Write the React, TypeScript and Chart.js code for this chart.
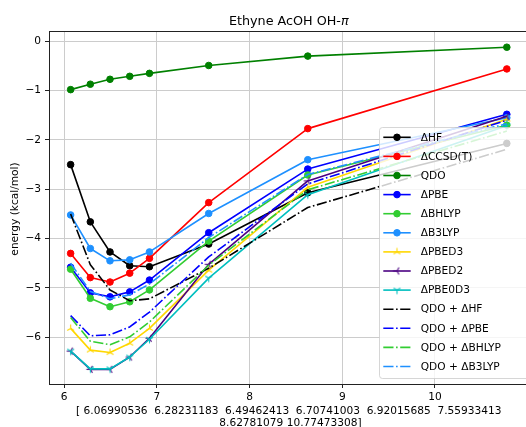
import React, { useEffect, useRef } from "react";
import { Chart, registerables } from "chart.js";
Chart.register(...registerables);

// ---- data ----
const xValues = [6.06990536, 6.28231183, 6.49462413, 6.70741003, 6.92015685, 7.55933413, 8.62781079, 10.77473308];
const xTickValues = [6, 7, 8, 9, 10];
const yTickValues = [0, -1, -2, -3, -4, -5, -6];

const dHF = [-2.5, -3.66, -4.27, -4.55, -4.57, -4.11, -3.07, -2.07];
const dCCSDT = [-4.3, -4.79, -4.88, -4.7, -4.4, -3.27, -1.77, -0.56];
const qdo = [-0.98, -0.87, -0.77, -0.71, -0.65, -0.49, -0.3, -0.12];
const dPBE = [-4.58, -5.1, -5.18, -5.08, -4.84, -3.88, -2.59, -1.48];
const dBHLYP = [-4.62, -5.21, -5.38, -5.28, -5.04, -4.05, -2.71, -1.7];
const dB3LYP = [-3.52, -4.2, -4.45, -4.43, -4.27, -3.49, -2.4, -1.55];
const dPBED3 = [-5.82, -6.26, -6.31, -6.12, -5.82, -4.64, -2.96, -1.58];
const dPBED2 = [-6.28, -6.65, -6.65, -6.4, -6.02, -4.52, -2.83, -1.52];
const dPBE0D3 = [-6.28, -6.64, -6.64, -6.4, -6.04, -4.8, -3.11, -1.71];
const qdoHF = [-3.5, -4.53, -5.04, -5.26, -5.22, -4.6, -3.37, -2.19];
const qdoPBE = [-5.56, -5.97, -5.95, -5.79, -5.49, -4.37, -2.89, -1.6];
const qdoBHLYP = [-5.6, -6.08, -6.15, -5.99, -5.69, -4.54, -3.01, -1.82];
const qdoB3LYP = [-4.5, -5.07, -5.22, -5.14, -4.92, -3.98, -2.7, -1.67];

const titleMain = "Ethyne AcOH OH-";
const titlePi = "\u03c0";
const yLabel = "energy (kcal/mol)";
const xLabelLines = [
  "[ 6.06990536  6.28231183  6.49462413  6.70741003  6.92015685  7.55933413",
  " 8.62781079 10.77473308]",
];

type Marker = "circle" | "triUp" | "triLeft" | "triDown" | "none";
const seriesDefs: { label: string; values: number[]; color: string; marker: Marker; dash: boolean }[] = [
  { label: "\u0394HF", values: dHF, color: "#000000", marker: "circle", dash: false },
  { label: "\u0394CCSD(T)", values: dCCSDT, color: "#ff0000", marker: "circle", dash: false },
  { label: "QDO", values: qdo, color: "#008000", marker: "circle", dash: false },
  { label: "\u0394PBE", values: dPBE, color: "#0000ff", marker: "circle", dash: false },
  { label: "\u0394BHLYP", values: dBHLYP, color: "#32cd32", marker: "circle", dash: false },
  { label: "\u0394B3LYP", values: dB3LYP, color: "#1e90ff", marker: "circle", dash: false },
  { label: "\u0394PBED3", values: dPBED3, color: "#ffd700", marker: "triUp", dash: false },
  { label: "\u0394PBED2", values: dPBED2, color: "#4b0082", marker: "triLeft", dash: false },
  { label: "\u0394PBE0D3", values: dPBE0D3, color: "#00bfbf", marker: "triDown", dash: false },
  { label: "QDO + \u0394HF", values: qdoHF, color: "#000000", marker: "none", dash: true },
  { label: "QDO + \u0394PBE", values: qdoPBE, color: "#0000ff", marker: "none", dash: true },
  { label: "QDO + \u0394BHLYP", values: qdoBHLYP, color: "#32cd32", marker: "none", dash: true },
  { label: "QDO + \u0394B3LYP", values: qdoB3LYP, color: "#1e90ff", marker: "none", dash: true },
];

const FONT = "'DejaVu Sans', sans-serif";
const DASHDOT = [10.2, 2.55, 1.6, 2.55];

function triMarker(color: string, kind: Marker): HTMLCanvasElement {
  const c = document.createElement("canvas");
  c.width = 11;
  c.height = 11;
  const g = c.getContext("2d")!;
  g.strokeStyle = color;
  g.lineWidth = 1.1;
  const cx = 5.5, cy = 5.5, r = 4;
  let angles: number[] = [];
  if (kind === "triUp") angles = [-90, 30, 150];
  else if (kind === "triDown") angles = [90, -30, -150];
  else angles = [180, -60, 60];
  for (const a of angles) {
    const rad = (a * Math.PI) / 180;
    g.beginPath();
    g.moveTo(cx, cy);
    g.lineTo(cx + r * Math.cos(rad), cy + r * Math.sin(rad));
    g.stroke();
  }
  return c;
}

export default function App() {
  const ref = useRef<HTMLCanvasElement | null>(null);

  useEffect(() => {
    if (!ref.current) return;
    const markerImgs = seriesDefs.map((s) =>
      s.marker === "triUp" || s.marker === "triLeft" || s.marker === "triDown" ? triMarker(s.color, s.marker) : null
    );
    const n = seriesDefs.length;
    const datasets = seriesDefs.map((s, i) => ({
      label: s.label,
      data: xValues.map((x, j) => ({ x, y: s.values[j] })),
      borderColor: s.color,
      backgroundColor: s.color,
      borderWidth: 1.6,
      borderDash: s.dash ? DASHDOT : [],
      borderJoinStyle: "round" as const,
      pointRadius: s.marker === "none" ? 0 : s.marker === "circle" ? 3.3 : 5.5,
      pointBorderWidth: 1,
      pointStyle: markerImgs[i] ? (markerImgs[i] as any) : "circle",
      pointBorderColor: s.color,
      pointBackgroundColor: s.color,
      tension: 0,
      order: n - 1 - i,
    }));

    const decor = {
      id: "decor",
      afterDraw(chart: any) {
        const ctx: CanvasRenderingContext2D = chart.ctx;
        const ca = chart.chartArea;
        ctx.save();
        // top spine
        ctx.strokeStyle = "#222";
        ctx.lineWidth = 1;
        ctx.beginPath();
        ctx.moveTo(ca.left, ca.top + 0.5);
        ctx.lineTo(ca.right, ca.top + 0.5);
        ctx.stroke();

        // legend
        const lx = 379.5, ly = 127.5, lw = 170, lh = 251;
        ctx.beginPath();
        const rr = 3;
        ctx.moveTo(lx + rr, ly);
        ctx.lineTo(lx + lw - rr, ly);
        ctx.arcTo(lx + lw, ly, lx + lw, ly + rr, rr);
        ctx.lineTo(lx + lw, ly + lh - rr);
        ctx.arcTo(lx + lw, ly + lh, lx + lw - rr, ly + lh, rr);
        ctx.lineTo(lx + rr, ly + lh);
        ctx.arcTo(lx, ly + lh, lx, ly + lh - rr, rr);
        ctx.lineTo(lx, ly + rr);
        ctx.arcTo(lx, ly, lx + rr, ly, rr);
        ctx.closePath();
        ctx.fillStyle = "rgba(255,255,255,0.8)";
        ctx.fill();
        ctx.strokeStyle = "rgba(204,204,204,0.8)";
        ctx.lineWidth = 1;
        ctx.stroke();

        ctx.font = `10.6px ${FONT}`;
        ctx.textBaseline = "middle";
        ctx.textAlign = "left";
        seriesDefs.forEach((s, i) => {
          const y = 137.3 + i * 19.1;
          ctx.strokeStyle = s.color;
          ctx.lineWidth = 1.6;
          ctx.setLineDash(s.dash ? DASHDOT : []);
          ctx.beginPath();
          ctx.moveTo(383.3, y);
          ctx.lineTo(410.7, y);
          ctx.stroke();
          ctx.setLineDash([]);
          if (s.marker === "circle") {
            ctx.fillStyle = s.color;
            ctx.beginPath();
            ctx.arc(397, y, 3.3, 0, Math.PI * 2);
            ctx.fill();
            ctx.lineWidth = 1;
            ctx.stroke();
          } else if (markerImgs[i]) {
            ctx.drawImage(markerImgs[i]!, 397 - 5.5, y - 5.5);
          }
          ctx.fillStyle = "#000";
          ctx.fillText(s.label, 420.7, y + 0.5);
        });

        // title
        const cx = (ca.left + ca.right) / 2;
        ctx.font = `12.75px ${FONT}`;
        const w1 = ctx.measureText(titleMain).width;
        ctx.font = `italic 12.75px ${FONT}`;
        const w2 = ctx.measureText(titlePi).width;
        const sx = cx - (w1 + w2) / 2;
        ctx.textBaseline = "alphabetic";
        ctx.fillStyle = "#000";
        ctx.font = `12.75px ${FONT}`;
        ctx.fillText(titleMain, sx, 25.3);
        ctx.font = `italic 12.75px ${FONT}`;
        ctx.fillText(titlePi, sx + w1, 25.3);

        // y label
        ctx.font = `10.6px ${FONT}`;
        ctx.save();
        ctx.translate(15.7, (ca.top + ca.bottom) / 2 + 1.5);
        ctx.rotate(-Math.PI / 2);
        ctx.textAlign = "center";
        ctx.textBaseline = "middle";
        ctx.fillText(yLabel, 0, 0);
        ctx.restore();

        // x label
        ctx.textAlign = "center";
        ctx.textBaseline = "middle";
        ctx.fillText(xLabelLines[0], cx, 411.7);
        ctx.fillText(xLabelLines[1], cx, 423.2);
        ctx.restore();
      },
    };

    const chart = new Chart(ref.current, {
      type: "line",
      data: { datasets: datasets as any },
      options: {
        animation: false,
        responsive: false,
        devicePixelRatio: 1,
        layout: { padding: { left: 0, right: 2, top: 31, bottom: 0 } },
        plugins: { legend: { display: false }, tooltip: { enabled: false }, title: { display: false } },
        scales: {
          x: {
            type: "linear",
            min: 5.8366,
            max: 11.0086,
            afterFit(scale: any) {
              scale.height = 43;
            },
            afterBuildTicks(scale: any) {
              scale.ticks = xTickValues.map((v) => ({ value: v }));
            },
            ticks: {
              font: { family: FONT, size: 10.6 },
              color: "#000",
              padding: 3,
              maxRotation: 0,
              callback: (v: any) => String(v),
            },
            grid: { color: "#cccccc", lineWidth: 1, tickLength: 4, tickColor: "#222", drawTicks: true },
            border: { color: "#222", width: 1 },
          },
          y: {
            type: "linear",
            min: -6.947,
            max: 0.2088,
            afterFit(scale: any) {
              scale.width = 49;
            },
            afterBuildTicks(scale: any) {
              scale.ticks = yTickValues.map((v) => ({ value: v }));
            },
            ticks: {
              font: { family: FONT, size: 10.6 },
              color: "#000",
              padding: 4,
              callback: (v: any) => (v < 0 ? "\u2212" + Math.abs(v) : String(v)),
            },
            grid: { color: "#cccccc", lineWidth: 1, tickLength: 4, tickColor: "#222", drawTicks: true },
            border: { color: "#222", width: 1 },
          },
        },
      },
      plugins: [decor],
    } as any);
    return () => chart.destroy();
  }, []);

  return (
    <div style={{ position: "absolute", left: 0, top: 0, width: 526, height: 427, overflow: "hidden", background: "#fff" }}>
      <canvas ref={ref} width={535} height={427} style={{ display: "block", width: 535, height: 427 }} />
    </div>
  );
}
